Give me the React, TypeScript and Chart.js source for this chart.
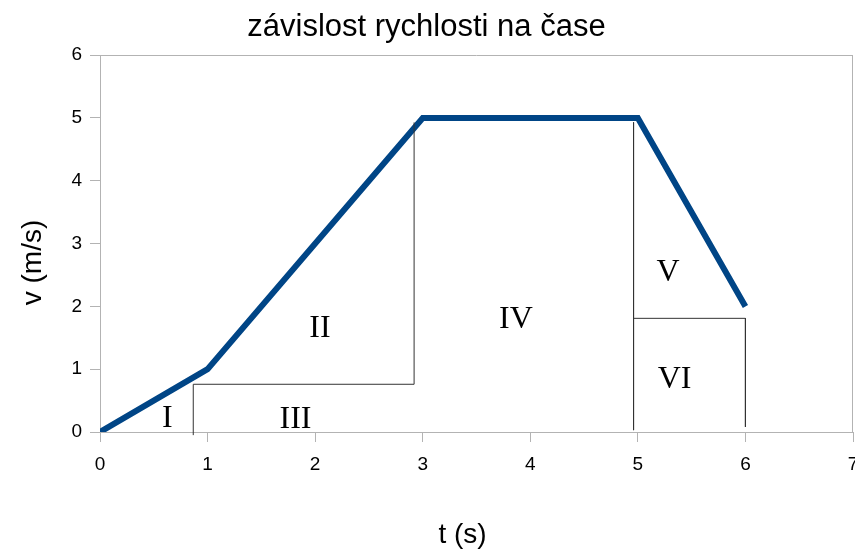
import React, { useEffect, useRef } from "react";
import { Chart, registerables } from "chart.js";

Chart.register(...registerables);

const chartTitle = "závislost rychlosti na čase";
const xAxisTitle = "t (s)";
const yAxisTitle = "v (m/s)";

const timeS = [0, 1, 3, 5, 6];
const speedMs = [0, 1, 5, 5, 2];

const xMin = 0;
const xMax = 7;
const yMin = 0;
const yMax = 6;

// thin guide lines (area decomposition)
const guideAX = [0.867, 0.867, 2.92, 2.92];
const guideAY = [-0.05, 0.76, 0.76, 4.93];
const guideBX = [4.96, 4.96];
const guideBY = [4.93, 0.03];
const guideCX = [4.96, 6, 6];
const guideCY = [1.81, 1.81, 0.08];

// region labels
const regionNames = ["I", "II", "III", "IV", "V", "VI"];
const regionX = [0.627, 2.045, 1.817, 3.867, 5.28, 5.341];
const regionY = [0.215, 1.647, 0.191, 1.79, 2.538, 0.827];

const SANS = "'Liberation Sans', Arial, sans-serif";
const SERIF = "'Liberation Serif', 'Times New Roman', serif";

const toPoints = (xs: number[], ys: number[]) => xs.map((x, i) => ({ x, y: ys[i] }));

const framePlugin = {
  id: "frame",
  beforeDatasetsDraw(chart: any) {
    const { ctx, chartArea } = chart;
    ctx.save();
    ctx.strokeStyle = "#b3b3b3";
    ctx.lineWidth = 1;
    ctx.beginPath();
    ctx.moveTo(chartArea.left, Math.round(chartArea.top) + 0.5);
    ctx.lineTo(chartArea.right, Math.round(chartArea.top) + 0.5);
    ctx.moveTo(Math.round(chartArea.right) - 0.5, chartArea.top);
    ctx.lineTo(Math.round(chartArea.right) - 0.5, chartArea.bottom);
    ctx.stroke();
    ctx.restore();
  },
  afterDatasetsDraw(chart: any) {
    const { ctx } = chart;
    const xs = chart.scales.x;
    const ys = chart.scales.y;
    ctx.save();
    ctx.fillStyle = "#000";
    ctx.textAlign = "center";
    ctx.textBaseline = "middle";
    ctx.font = `32px ${SERIF}`;
    regionNames.forEach((name, i) => {
      ctx.fillText(name, xs.getPixelForValue(regionX[i]), ys.getPixelForValue(regionY[i]));
    });
    // axis titles
    ctx.font = `28px ${SANS}`;
    ctx.fillText(xAxisTitle, 462.5, 535);
    ctx.translate(33, 262.5);
    ctx.rotate(-Math.PI / 2);
    ctx.fillText(yAxisTitle, 0, 0);
    ctx.restore();
  },
};

export default function App() {
  const canvasRef = useRef<HTMLCanvasElement | null>(null);

  useEffect(() => {
    if (!canvasRef.current) return;
    const guideStyle = {
      borderColor: "#333333",
      borderWidth: 1,
      pointRadius: 0,
      fill: false,
      tension: 0,
      clip: false as any,
      order: 0,
    };
    const chart = new Chart(canvasRef.current, {
      type: "line",
      data: {
        datasets: [
          { label: "guideA", data: toPoints(guideAX, guideAY), ...guideStyle },
          { label: "guideB", data: toPoints(guideBX, guideBY), ...guideStyle },
          { label: "guideC", data: toPoints(guideCX, guideCY), ...guideStyle },
          {
            label: "v",
            data: toPoints(timeS, speedMs),
            borderColor: "#004586",
            borderWidth: 6,
            pointRadius: 0,
            fill: false,
            tension: 0,
            borderJoinStyle: "miter",
            order: 1,
          } as any,
        ],
      },
      options: {
        animation: false,
        responsive: false,
        maintainAspectRatio: false,
        layout: { padding: { left: 0, right: 2, top: 0, bottom: 0 } },
        plugins: {
          legend: { display: false },
          tooltip: { enabled: false },
          title: {
            display: true,
            text: chartTitle,
            color: "#000",
            font: { family: SANS, size: 31, weight: "normal" as any, lineHeight: 1.2 },
            padding: { top: 9, bottom: 9 },
          },
        },
        scales: {
          x: {
            type: "linear",
            min: xMin,
            max: xMax,
            afterFit(scale: any) {
              scale.height = 118;
              scale.paddingLeft = 0;
              scale.paddingRight = 0;
            },
            ticks: {
              stepSize: 1,
              color: "#000",
              font: { family: SANS, size: 19 },
              padding: 11,
              maxRotation: 0,
              autoSkip: false,
            },
            grid: {
              drawOnChartArea: false,
              drawTicks: true,
              tickLength: 10,
              color: "#b3b3b3",
            },
            border: { color: "#b3b3b3", width: 1 },
          },
          y: {
            type: "linear",
            min: yMin,
            max: yMax,
            afterFit(scale: any) {
              scale.width = 100;
              scale.paddingTop = 0;
              scale.paddingBottom = 0;
            },
            ticks: {
              stepSize: 1,
              color: "#000",
              font: { family: SANS, size: 19 },
              padding: 8,
            },
            grid: {
              drawOnChartArea: false,
              drawTicks: true,
              tickLength: 10,
              color: "#b3b3b3",
            },
            border: { color: "#b3b3b3", width: 1 },
          },
        },
      },
      plugins: [framePlugin],
    });
    return () => chart.destroy();
  }, []);

  return (
    <div style={{ position: "absolute", left: 0, top: 0, width: 855, height: 550, background: "#fff" }}>
      <canvas ref={canvasRef} width={855} height={550} style={{ display: "block" }} />
    </div>
  );
}
